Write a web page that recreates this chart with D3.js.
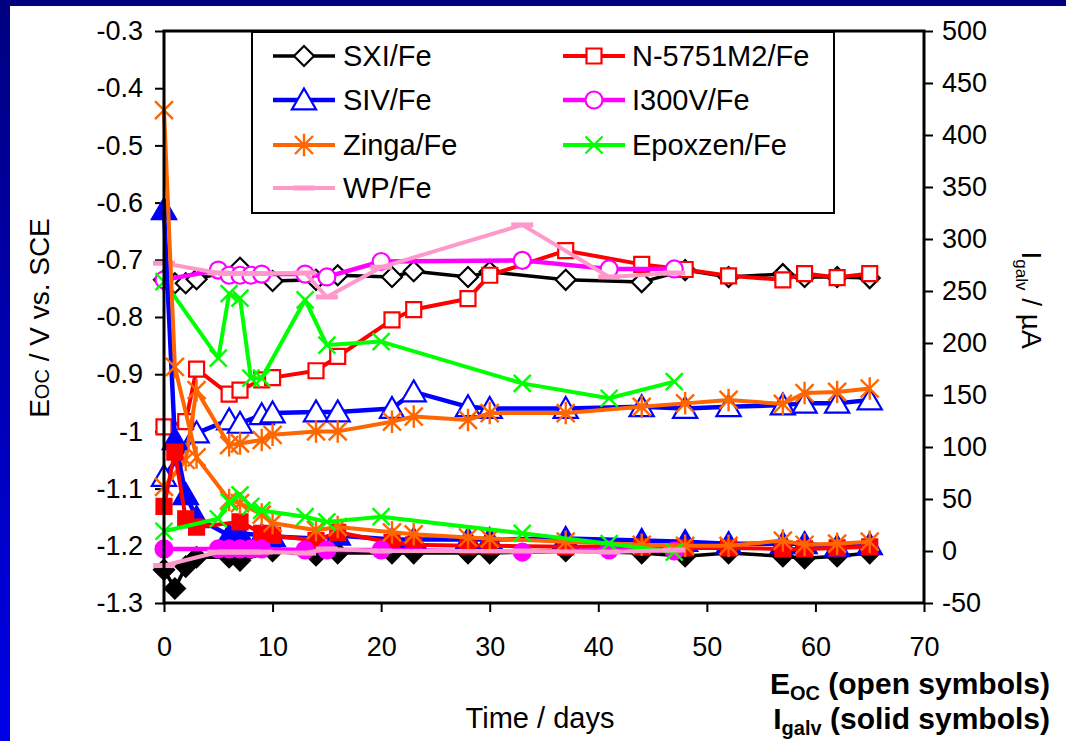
<!DOCTYPE html>
<html><head><meta charset="utf-8">
<script src="https://cdn.jsdelivr.net/npm/d3@7/dist/d3.min.js"></script>
<style>body{margin:0;background:#fff;} svg{display:block;font-family:Arial,"Liberation Sans",sans-serif;}</style>
</head><body><svg id="c" width="1066" height="741"></svg>
<script>
// ---------- data ----------
const xTicks = [0,10,20,30,40,50,60,70];
const yLeftTicks = [-0.3,-0.4,-0.5,-0.6,-0.7,-0.8,-0.9,-1,-1.1,-1.2,-1.3];
const yRightTicks = [500,450,400,350,300,250,200,150,100,50,0,-50];

const sxiEocDays = [0,1,2,3,7,10,14,16,21,23,28,30,37,44,48,52,57,59,62,65];
const sxiEoc = [-0.735,-0.741,-0.741,-0.734,-0.714,-0.737,-0.735,-0.727,-0.730,-0.720,-0.730,-0.721,-0.735,-0.739,-0.718,-0.730,-0.725,-0.730,-0.730,-0.732];
const sxiIgalvDays = [0,1,2,3,6,7,10,14,16,21,23,28,30,37,44,48,52,57,59,62,65];
const sxiIgalv = [-18,-36,-15,-6,-6,-9,0,-4,-2,-2,-2,-2,-2,0,-2,-5,-2,-5,-7,-5,-2];

const sivEocDays = [0,3,6,7,9,10,14,16,21,23,28,30,37,44,48,52,57,59,62,65];
const sivEoc = [-1.079,-1.003,-0.980,-0.986,-0.971,-0.968,-0.966,-0.966,-0.960,-0.931,-0.957,-0.960,-0.960,-0.957,-0.960,-0.957,-0.954,-0.951,-0.951,-0.945];
const sivIgalvDays = [0,1,2,3,6,7,9,10,14,16,21,23,28,30,37,44,48,52,57,59,62,65];
const sivIgalv = [328,107,54,32,15,17,15,14,12,15,11,11,11,11,12,10,9,7,7,7,4,6];

const zingaEocDays = [0,2,3,6,7,9,10,14,16,21,23,28,30,37,44,48,52,57,59,62,65];
const zingaEoc = [-1.097,-1.05,-0.928,-1.024,-1.021,-1.015,-1.006,-1.0,-1.0,-0.983,-0.974,-0.980,-0.968,-0.968,-0.957,-0.951,-0.945,-0.952,-0.933,-0.931,-0.925];
const zingaIgalvDays = [0,1,3,6,7,9,10,14,16,21,23,28,30,37,44,48,52,57,59,62,65];
const zingaIgalv = [424,177,90,49,46,35,27,20,23,18,16,13,12,9,6,5,5,10,6,7,9];

const n5751EocDays = [0,2,3,6,7,9,10,14,16,21,23,28,30,37,44,48,52,57,59,62,65];
const n5751Eoc = [-0.992,-0.983,-0.891,-0.935,-0.928,-0.910,-0.906,-0.894,-0.869,-0.805,-0.787,-0.768,-0.727,-0.684,-0.708,-0.717,-0.728,-0.735,-0.724,-0.731,-0.724];
const n5751IgalvDays = [0,1,2,3,7,9,10,14,16,21,23,28,30,37,44,48,52,57,59,62,65];
const n5751Igalv = [43,95,31,23,28,17,15,10,18,8,6,5,5,4,4,3,3,2,2,3,4];

const shortDays = [0,5,6,7,8,9,13,15,20,33,41,47];
const i300Eoc = [-0.735,-0.718,-0.727,-0.727,-0.727,-0.725,-0.725,-0.730,-0.703,-0.701,-0.716,-0.716];
const i300Igalv = [2,2,2,2,2,2,1,1,1,-1,1,0];
const epoxEoc = [-0.738,-0.872,-0.759,-0.767,-0.907,-0.907,-0.770,-0.849,-0.843,-0.916,-0.942,-0.913];
const epoxIgalv = [19,31,47,54,43,39,33,28,33,17,7,-1];
const wpEoc = [-0.706,-0.723,-0.724,-0.724,-0.724,-0.724,-0.723,-0.765,-0.713,-0.639,-0.730,-0.723];
const wpIgalv = [-14,-1,-1,-1,-1,-1,-2,2,0,0,-1,1];

const legendNames = ["SXI/Fe","N-5751M2/Fe","SIV/Fe","I300V/Fe","Zinga/Fe","Epoxzen/Fe","WP/Fe"];

// ---------- setup ----------
const svg = d3.select("#c");
const defs = svg.append("defs");
const grad = defs.append("linearGradient").attr("id","bg").attr("x1",0).attr("y1",0).attr("x2",0).attr("y2",1);
grad.append("stop").attr("offset","0%").attr("stop-color","#000080");
grad.append("stop").attr("offset","100%").attr("stop-color","#0000e8");
svg.append("rect").attr("width",1066).attr("height",741).attr("fill","url(#bg)");
svg.append("rect").attr("x",10).attr("y",6).attr("width",1056).attr("height",735).attr("fill","#fff");

const L = 164, R = 924, T = 31, B = 603;
const x = d3.scaleLinear().domain([0,70]).range([L,R]);
const yL = d3.scaleLinear().domain([-1.3,-0.3]).range([B,T]);
const yR = d3.scaleLinear().domain([-50,500]).range([B,T]);

const hy = s => String(s).replace("\u2212","-");
const fmtL = d => hy(+d.toFixed(1));
const axL = svg.append("g").attr("transform",`translate(${L},0)`)
  .call(d3.axisLeft(yL).tickValues(yLeftTicks).tickSize(9).tickPadding(12).tickFormat(fmtL));
const axR = svg.append("g").attr("transform",`translate(${R},0)`)
  .call(d3.axisRight(yR).tickValues(yRightTicks).tickSize(9).tickPadding(9).tickFormat(d=>hy(d)));
const axB = svg.append("g").attr("transform",`translate(0,${B})`)
  .call(d3.axisBottom(x).tickValues(xTicks).tickSize(9).tickPadding(25));
[axL,axR,axB].forEach(a=>{
  a.select(".domain").remove();
  a.selectAll(".tick line").attr("stroke","#000").attr("stroke-width",2);
  a.selectAll(".tick text").attr("fill","#000").style("font-size","27px").style("font-family","Arial, 'Liberation Sans', sans-serif");
});

const plot = svg.append("g");

function markerPath(type, s){
  switch(type){
    case "diamond": return `M0,${-s}L${s},0L0,${s}L${-s},0Z`;
    case "triangle": return `M0,${-s*1.05}L${s*1.1},${s*0.85}L${-s*1.1},${s*0.85}Z`;
    case "square": return `M${-s},${-s}H${s}V${s}H${-s}Z`;
    case "x": return `M${-s},${-s}L${s},${s}M${-s},${s}L${s},${-s}`;
    case "star": return `M${-s},${-s}L${s},${s}M${-s},${s}L${s},${-s}M0,${-s*1.25}V${s*1.25}`;
    case "dash": return `M${-s},-2.5H${s}V2.5H${-s}Z`;
  }
}
function drawMarker(g, type, cx, cy, color, filled, size){
  if(type==="circle"){
    g.append("circle").attr("cx",cx).attr("cy",cy).attr("r",size)
     .attr("fill",filled?color:"#fff").attr("stroke",color).attr("stroke-width",2.2);
    return;
  }
  const p = g.append("path").attr("d",markerPath(type,size)).attr("transform",`translate(${cx},${cy})`);
  if(type==="x"||type==="star") p.attr("fill","none").attr("stroke",color).attr("stroke-width",2.4);
  else if(type==="dash") p.attr("fill",color).attr("stroke","none");
  else p.attr("fill",filled?color:"#fff").attr("stroke",color).attr("stroke-width",2.2);
}
const sizes = {diamond:10, triangle:11, square:7.5, circle:8.5, x:8.5, star:9, dash:11};
function series(days, vals, ys, color, type, filled, lw){
  const g = plot.append("g");
  const line = d3.line().x((d,i)=>x(days[i])).y(d=>ys(d));
  g.append("path").datum(vals).attr("d",line).attr("fill","none").attr("stroke",color)
    .attr("stroke-width",lw).attr("stroke-linejoin","round");
  vals.forEach((v,i)=>drawMarker(g,type,x(days[i]),ys(v),color,filled,sizes[type]));
}

const BLACK="#000", BLUE="#0000ff", ORANGE="#ff6600", RED="#ff0000", MAG="#ff00ff", GREEN="#00ff00", PINK="#ff99cc";

series(sxiEocDays, sxiEoc, yL, BLACK, "diamond", false, 3.5);
series(sivEocDays, sivEoc, yL, BLUE, "triangle", false, 4.5);
series(n5751EocDays, n5751Eoc, yL, RED, "square", false, 4);
series(shortDays, i300Eoc, yL, MAG, "circle", false, 4.5);
series(zingaEocDays, zingaEoc, yL, ORANGE, "star", false, 4);
series(shortDays, epoxEoc, yL, GREEN, "x", false, 4);
series(shortDays, wpEoc, yL, PINK, "dash", false, 4);
series(sxiIgalvDays, sxiIgalv, yR, BLACK, "diamond", true, 3.5);
series(sivIgalvDays, sivIgalv, yR, BLUE, "triangle", true, 4.5);
series(n5751IgalvDays, n5751Igalv, yR, RED, "square", true, 4);
series(shortDays, i300Igalv, yR, MAG, "circle", true, 4.5);
series(zingaIgalvDays, zingaIgalv, yR, ORANGE, "star", true, 4);
series(shortDays, epoxIgalv, yR, GREEN, "x", true, 4);
series(shortDays, wpIgalv, yR, PINK, "dash", true, 4);

svg.append("rect").attr("x",L).attr("y",T).attr("width",R-L).attr("height",B-T)
  .attr("fill","none").attr("stroke","#000").attr("stroke-width",3);

// legend
const lg = svg.append("g");
lg.append("rect").attr("x",252).attr("y",32).attr("width",582).attr("height",181)
  .attr("fill","#fff").attr("stroke","#000").attr("stroke-width",2);
const legendStyle = [
  [BLACK,"diamond",3.5],[RED,"square",4],[BLUE,"triangle",4.5],[MAG,"circle",4.5],
  [ORANGE,"star",4],[GREEN,"x",4],[PINK,"dash",4]];
const rowY = [56,100,145,188];
legendNames.forEach((name,i)=>{
  const col = i%2, row = Math.floor(i/2);
  const x0 = col===0 ? 273 : 563, x1 = x0+62, cy = rowY[row];
  const [c,t,lw] = legendStyle[i];
  lg.append("line").attr("x1",x0).attr("x2",x1).attr("y1",cy).attr("y2",cy).attr("stroke",c).attr("stroke-width",lw);
  drawMarker(lg,t,(x0+x1)/2,cy,c,false,sizes[t]);
  lg.append("text").attr("x",col===0?343:632).attr("y",cy+10).text(name)
    .style("font-size","29px").attr("fill","#000");
});

// axis titles
const lt = svg.append("text").attr("transform","translate(49,318) rotate(-90)")
  .attr("text-anchor","middle").style("font-size","28px").attr("fill","#000");
lt.append("tspan").text("E");
lt.append("tspan").text("OC").style("font-size","20px");
lt.append("tspan").text(" / V vs. SCE");

const rt = svg.append("text").attr("transform","translate(1022,300) rotate(90)")
  .attr("text-anchor","middle").style("font-size","28px").attr("fill","#000");
rt.append("tspan").text("I");
rt.append("tspan").text("galv").style("font-size","17px").attr("dy",6);
rt.append("tspan").text(" / µA").attr("dy",-6);

svg.append("text").attr("x",540).attr("y",728).attr("text-anchor","middle")
  .style("font-size","29px").attr("fill","#000").text("Time / days");

const b1 = svg.append("text").attr("x",1050).attr("y",694).attr("text-anchor","end")
  .style("font-size","30px").style("font-weight","bold").attr("fill","#000");
b1.append("tspan").text("E");
b1.append("tspan").text("OC").style("font-size","20px").attr("dy",6);
b1.append("tspan").text(" (open symbols)").attr("dy",-6);
const b2 = svg.append("text").attr("x",1050).attr("y",729).attr("text-anchor","end")
  .style("font-size","30px").style("font-weight","bold").attr("fill","#000");
b2.append("tspan").text("I");
b2.append("tspan").text("galv").style("font-size","20px").attr("dy",6);
b2.append("tspan").text(" (solid symbols)").attr("dy",-6);
</script></body></html>
